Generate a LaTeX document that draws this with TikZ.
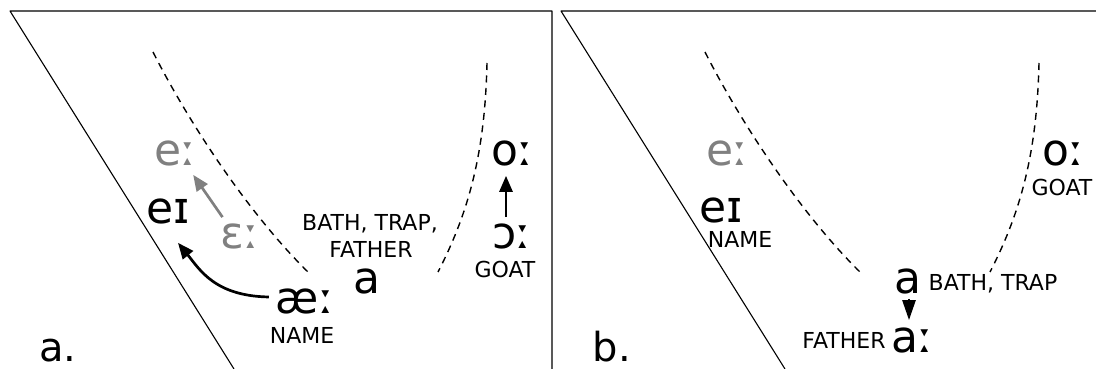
\documentclass[tikz,border=0pt]{standalone}
\usepackage{fontspec}
\setmainfont{DejaVu Sans}
\usetikzlibrary{arrows.meta}

\begin{document}
\begin{tikzpicture}[x=1pt,y=-1pt,line join=round,
  ipa/.style={inner sep=0pt,anchor=base,font=\fontsize{44}{44}\selectfont},
  word/.style={inner sep=0pt,anchor=base,font=\fontsize{22}{22}\selectfont},
  faded/.style={gray},
  shiftarrow/.style={line width=2.7pt,-{Triangle[length=16pt,width=13pt]}},
  rim/.style={line width=1.1pt},
  tongue/.style={line width=1.4pt,dash pattern=on 7pt off 5.5pt}]
  \useasboundingbox (0,0) rectangle (1096,369);
  \coordinate (A0) at (10,11);
  \coordinate (A1) at (552,11);
  \coordinate (A2) at (552,369);
  \coordinate (A3) at (234,369);
  \coordinate (B0) at (561,11);
  \coordinate (B1) at (1096,11);
  \coordinate (B3) at (785,369);
  \draw[rim] (A3) -- (A0) -- (A1) -- (A2);
  \draw[rim] (B3) -- (B0) -- (B1);
  \draw[tongue] (153,52) .. controls (190,125) and (250,215) .. (308,272);
  \draw[tongue] (487,63) .. controls (485,150) and (470,210) .. (438,272);
  \draw[tongue] (705,52) .. controls (742,125) and (802,215) .. (860,272);
  \draw[tongue] (1039,63) .. controls (1037,150) and (1022,210) .. (990,272);
  \node[ipa,faded] (eA) at (175,165) {eː};
  \node[ipa] (eiA) at (168.5,223) {eɪ};
  \node[ipa,faded] (epsA) at (240,248) {ɛː};
  \node[word] (bathA) at (370,230) {BATH, TRAP,};
  \node[word] (fatherA) at (371,257) {FATHER};
  \node[ipa] (aA) at (367,293) {a};
  \node[ipa] (aeA) at (305,313) {æː};
  \node[word] (nameA) at (302,343) {NAME};
  \node[ipa] (oA) at (512,165) {oː};
  \node[ipa] (openoA) at (512,248) {ɔː};
  \node[word] (goatA) at (505,277) {GOAT};
  \node[ipa,font=\fontsize{40}{40}\selectfont] (panelA) at (58,361) {a.};
  \node[ipa,faded] (eB) at (727,165) {eː};
  \node[ipa] (eiB) at (721,222) {eɪ};
  \node[word] (nameB) at (740,247) {NAME};
  \node[ipa] (oB) at (1063,165) {oː};
  \node[word] (goatB) at (1062,195) {GOAT};
  \node[ipa] (aB) at (908,293) {a};
  \node[word] (bathB) at (993,290) {BATH, TRAP};
  \node[word] (fatherB) at (844,348) {FATHER};
  \node[ipa] (alongB) at (912,352) {aː};
  \node[ipa,font=\fontsize{40}{40}\selectfont] (panelB) at (612,361) {b.};
  \draw[shiftarrow,gray] ([shift={(2,-6)}]epsA.north west) -- ([shift={(-3,9)}]eA.south east);
  \draw[shiftarrow] ([shift={(-7,-4)}]aeA.west) .. controls (215,296) and (200,270) .. ([shift={(9.5,19)}]eiA.south);
  \draw[shiftarrow] ([shift={(-6,-6)}]openoA.north) -- ([shift={(-6,10)}]oA.south);
  \draw[line width=2.5pt,-{Triangle[length=20pt,width=13pt]}] ([shift={(1,5)}]aB.south) -- ([shift={(-3,-7)}]alongB.north);
\end{tikzpicture}
\end{document}
